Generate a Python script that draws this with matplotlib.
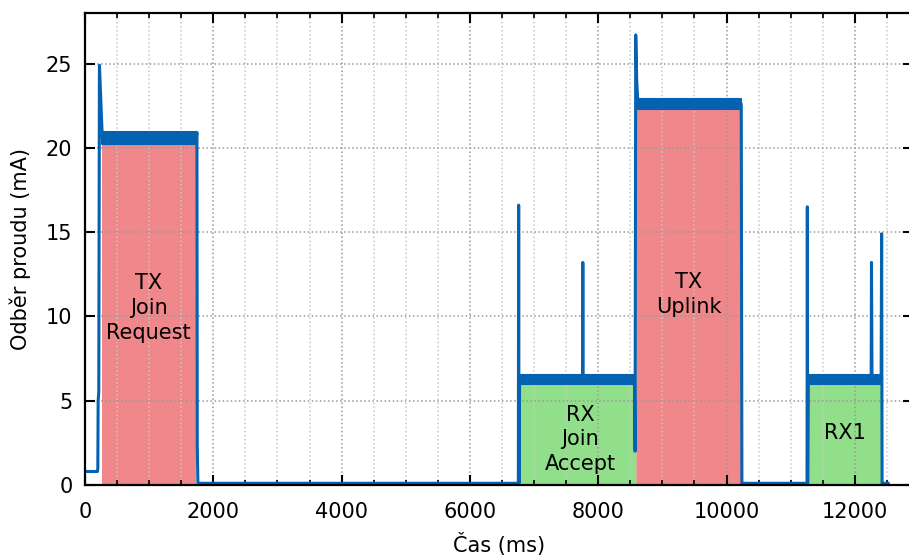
import numpy as np
import matplotlib.pyplot as plt
from matplotlib.ticker import MultipleLocator

# current trace, key points (ms, mA)
time_ms = [0, 195, 200, 205, 215, 225, 240, 255, 270, 1735, 1745, 1750, 1760,
           6755, 6760, 6765, 6775, 7755, 7760, 7765, 8565, 8575, 8585, 8600, 8620,
           10230, 10240, 11255, 11260, 11265, 11275, 12255, 12260, 12268, 12410,
           12418, 12425, 12520]
current_ma = [0.8, 0.8, 1.0, 5.0, 5.5, 24.9, 23.5, 22.0, 20.6, 20.6, 20.9, 2.4, 0.1,
              0.1, 16.6, 0.1, 6.2, 6.2, 13.2, 6.2, 6.2, 2.0, 26.7, 24.0, 22.6,
              22.6, 0.1, 0.1, 16.5, 0.1, 6.2, 6.2, 13.2, 6.2, 6.2,
              14.9, 0.1, 0.1]

# noise band on the plateaus: start, end, low, high
plateau_start = [270, 6775, 8620, 11275]
plateau_end = [1740, 8565, 10230, 12410]
plateau_lo = [20.2, 6.0, 22.3, 6.0]
plateau_hi = [20.95, 6.55, 22.9, 6.5]

# shaded phases
tx_regions = [(260, 1740), (8585, 10235)]
rx_regions = [(6770, 8585), (11270, 12412)]

labels = ["TX\nJoin\nRequest", "RX\nJoin\nAccept", "TX\nUplink", "RX1"]
label_x = [990, 7720, 9410, 11840]
label_y = [10.5, 2.7, 11.3, 3.1]

t = np.array(time_ms)
cur = np.array(current_ma)

fig = plt.figure(figsize=(9.09, 5.57), dpi=100)
ax = fig.add_axes([0.0935, 0.1293, 0.9104, 0.8474])

for a, b in tx_regions:
    m = (t >= a) & (t <= b)
    ax.fill_between(t, 0, cur, where=m, color="#f0888b", lw=0, zorder=1)
for a, b in rx_regions:
    m = (t >= a) & (t <= b)
    ax.fill_between(t, 0, cur, where=m, color="#92df8b", lw=0, zorder=1)

blue = "#0562b0"
ax.plot(t, cur, color=blue, lw=2.2, zorder=2)
for s, e, lo, hi in zip(plateau_start, plateau_end, plateau_lo, plateau_hi):
    ax.fill_between([s, e], lo, hi, color=blue, lw=1.5, edgecolor=blue, zorder=2)

for txt, x, y in zip(labels, label_x, label_y):
    ax.text(x, y, txt, ha="center", va="center", fontsize=15, linespacing=1.3)

ax.set_xlim(0, 12900)
ax.set_ylim(0, 28)
ax.xaxis.set_major_locator(MultipleLocator(2000))
ax.xaxis.set_minor_locator(MultipleLocator(500))
ax.yaxis.set_major_locator(MultipleLocator(5))

ax.set_axisbelow("line")
ax.grid(which="major", linestyle=":", color="#999999", lw=1.1)
ax.grid(which="minor", axis="x", linestyle=":", color="#c8c8c8", lw=1.1)

ax.tick_params(which="both", direction="in", top=True, right=True, labelsize=15)
ax.tick_params(which="major", length=7, width=1.5)
ax.tick_params(which="minor", length=3.5, width=1.2)
ax.tick_params(axis="x", which="major", pad=12)
ax.tick_params(axis="y", which="major", pad=9)
for sp in ax.spines.values():
    sp.set_linewidth(1.6)

ax.set_xlabel("Čas (ms)", fontsize=15, labelpad=8)
ax.set_ylabel("Odběr proudu (mA)", fontsize=15, labelpad=11)

fig.savefig("out.png", dpi=100)
